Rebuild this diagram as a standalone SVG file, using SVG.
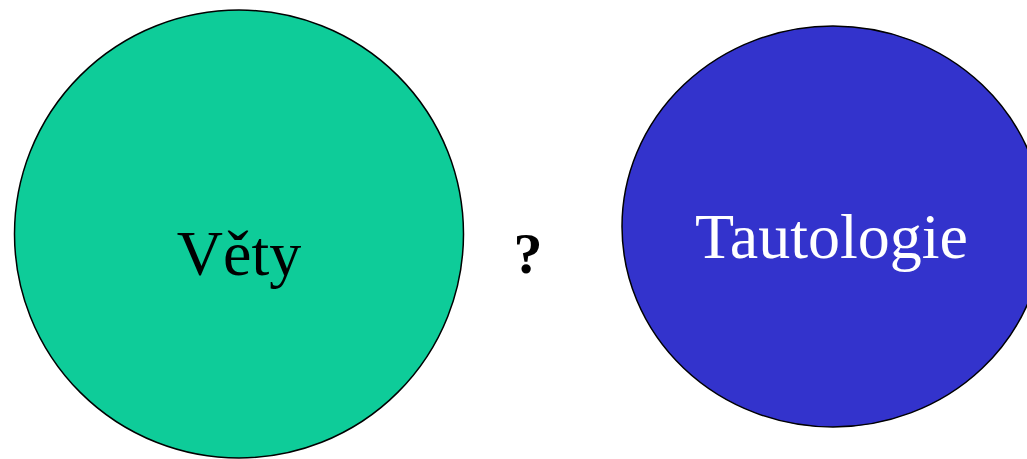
<svg xmlns="http://www.w3.org/2000/svg" width="1027" height="459" viewBox="0 0 1027 459">
<style>
.lbl{font-family:"Liberation Serif","Times New Roman",serif;font-size:64px;text-anchor:middle}
.node{stroke:#000;stroke-width:1.5}
</style>
<rect width="1027" height="459" fill="#fff"/>
<g id="vety">
<ellipse class="node" cx="239" cy="234" rx="224.5" ry="224" fill="#0ecc99"/>
<text class="lbl" x="239" y="275" fill="#000">Věty</text>
</g>
<g id="tautologie">
<ellipse class="node" cx="833" cy="226.5" rx="211" ry="200.5" fill="#3333cc"/>
<text class="lbl" x="831.5" y="258" fill="#fff">Tautologie</text>
</g>
<g id="connectors"></g>
<g id="question">
<text x="528" y="273" font-family="Liberation Serif,serif" font-weight="bold" font-size="58" text-anchor="middle" fill="#000">?</text>
</g>
</svg>
